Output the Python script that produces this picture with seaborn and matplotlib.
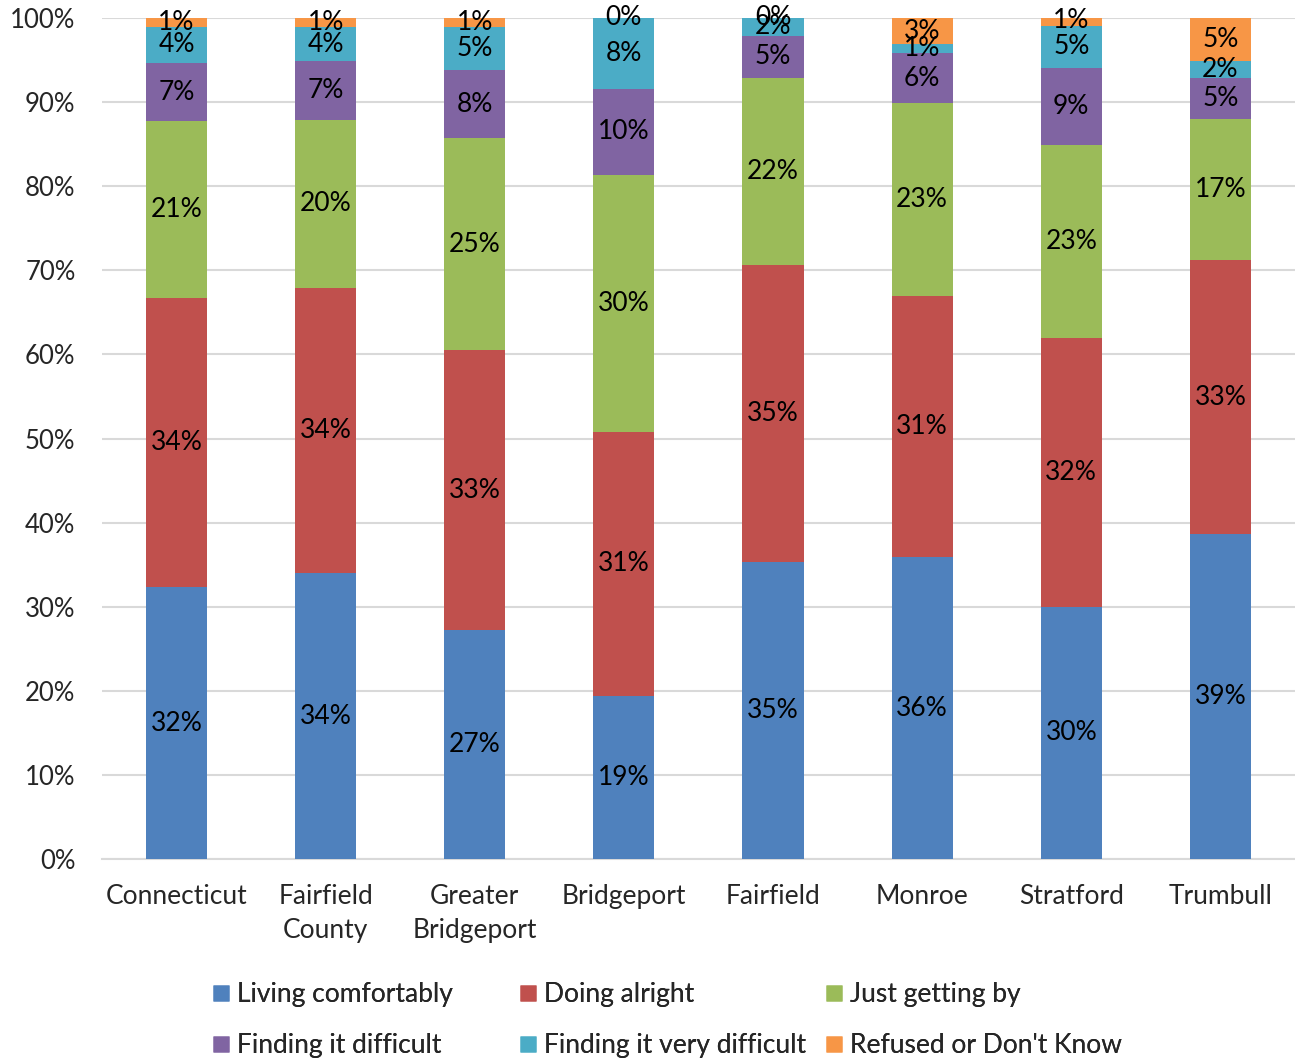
import numpy as np
import pandas as pd
import matplotlib
matplotlib.use("Agg")
import matplotlib.pyplot as plt
from matplotlib.lines import Line2D
import seaborn as sns

# --------------------------------
# 1. Data (percent of respondents)
# --------------------------------
places = ["Connecticut", "Fairfield\nCounty", "Greater\nBridgeport", "Bridgeport",
          "Fairfield", "Monroe", "Stratford", "Trumbull"]
categories = ["Living comfortably", "Doing alright", "Just getting by",
              "Finding it difficult", "Finding it very difficult", "Refused or Don't Know"]

living_comfortably = [32.3, 34.0, 27.2, 19.4, 35.3, 35.9, 30.0, 38.6]
doing_alright      = [34.4, 33.9, 33.3, 31.4, 35.3, 31.0, 31.9, 32.6]
just_getting_by    = [21.0, 20.0, 25.2, 30.5, 22.3, 23.0, 23.0, 16.8]
finding_difficult  = [7.0, 7.0, 8.1, 10.3, 5.0, 5.9, 9.2, 4.9]
very_difficult     = [4.2, 4.0, 5.1, 8.4, 2.1, 1.1, 5.0, 2.0]
refused_dont_know  = [1.1, 1.1, 1.1, 0.0, 0.0, 3.1, 1.1, 5.1]

colors = ["#4f81bd", "#c0504d", "#9bbb59", "#8064a2", "#4bacc6", "#f79646"]

series = [living_comfortably, doing_alright, just_getting_by,
          finding_difficult, very_difficult, refused_dont_know]
df = pd.DataFrame(np.array(series).T, index=places, columns=categories)
cum = df.cumsum(axis=1)

# --------------------------------
# 2. Plot
# --------------------------------
sns.set_style("white")
plt.rcParams["font.family"] = ["Lato", "DejaVu Sans"]

fig = plt.figure(figsize=(12.95, 10.58), dpi=100)
ax = fig.add_axes([0.0787, 0.188, 0.9213, 0.795])

# stacked bars: draw cumulative totals from the top segment down
for cat, col in reversed(list(zip(categories, colors))):
    plot_df = pd.DataFrame({"place": places, "value": cum[cat].values})
    sns.barplot(data=plot_df, x="place", y="value", color=col, width=0.41,
                saturation=1, ax=ax, zorder=3, edgecolor="none")

# segment labels
for i, place in enumerate(places):
    base = 0
    for cat in categories:
        v = df.loc[place, cat]
        ax.text(i, base + v / 2, f"{v:.0f}%", ha="center", va="center",
                fontsize=19, color="black", zorder=5)
        base += v

ax.set_ylim(0, 100)
ax.set_xlim(-0.5, len(places) - 0.5)
ax.set_yticks(np.arange(0, 101, 10))
ax.set_yticklabels([f"{t}%" for t in range(0, 101, 10)], fontsize=18.5)
ax.tick_params(axis="x", labelsize=19, length=0, pad=18)
ax.tick_params(axis="y", length=0, pad=19)
ax.set_xlabel("")
ax.set_ylabel("")
ax.yaxis.grid(True, color="#d9d9d9", linewidth=1.5, zorder=0)
ax.set_axisbelow(True)
for s in ["top", "right", "left"]:
    ax.spines[s].set_visible(False)
ax.spines["bottom"].set_color("#d9d9d9")
ax.spines["bottom"].set_linewidth(1.5)
for lbl in ax.get_xticklabels():
    lbl.set_linespacing(1.45)

# legend: three evenly spaced columns, two rows
handles = [Line2D([], [], marker="s", linestyle="none", markersize=12,
                  markerfacecolor=c, markeredgecolor="none") for c in colors]
col_x = [208, 515, 821]
for j, x0 in enumerate(col_x):
    idx = [j, j + 3]
    leg = fig.legend([handles[k] for k in idx], [categories[k] for k in idx],
                     loc="center left", bbox_to_anchor=(x0 / 1295, 1 - 1020 / 1058),
                     frameon=False, fontsize=19, handletextpad=0.1,
                     labelspacing=1.0, handlelength=1.0, borderpad=0,
                     borderaxespad=0)
    fig.add_artist(leg)

fig.savefig("out.png", dpi=100)
